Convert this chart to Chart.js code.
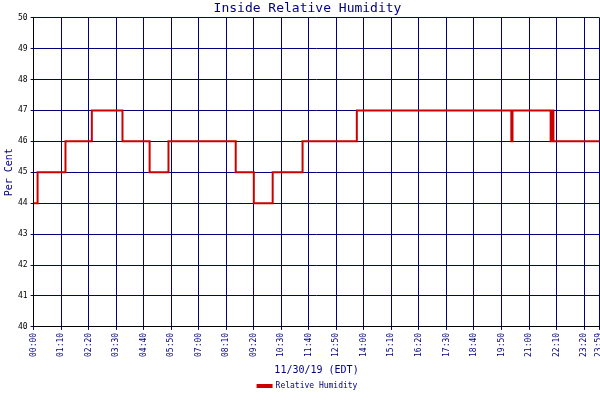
<!DOCTYPE html>
<html><head><meta charset="utf-8">
<script src="https://cdn.jsdelivr.net/npm/chart.js@4/dist/chart.umd.min.js"></script>
<style>html,body{margin:0;padding:0;background:#fff;overflow:hidden}#o{width:600px;height:400px;overflow:hidden}#w{width:612px;height:400px}</style>
</head><body><div id="o"><div id="w"><canvas id="c"></canvas></div></div>
<script>
const minutes = [0, 10, 81, 148, 226, 295, 343, 514, 560, 608, 684, 822, 1215, 1218, 1315, 1318, 1322, 1439];
const humidity = [44, 45, 46, 47, 46, 45, 46, 45, 44, 45, 46, 47, 46, 47, 46, 47, 46, 46];
const fmt = m => String(Math.floor(m/60)).padStart(2,'0') + ':' + String(m%60).padStart(2,'0');
const blue = '#000080';
new Chart(document.getElementById('c'), {
  type: 'line',
  data: { datasets: [{ label: 'Relative Humidity', data: minutes.map((m,i)=>({x:m,y:humidity[i]})),
    stepped: true, borderColor: '#cc0000', backgroundColor: '#cc0000', borderWidth: 2, pointRadius: 0 }]},
  options: {
    animation: false, responsive: true, maintainAspectRatio: false,
    layout: { padding: { top: 0, right: 0, left: 3, bottom: 0 } },
    plugins: {
      title: { display: true, text: 'Inside Relative Humidity', color: blue, font: { family: 'DejaVu Sans Mono', size: 13, weight: 'normal' }, padding: { top: 1, bottom: 1 } },
      legend: { position: 'bottom', labels: { boxWidth: 14, boxHeight: 2, color: blue, font: { family: 'DejaVu Sans Mono', size: 8 }, padding: 4 } }
    },
    scales: {
      x: { type: 'linear', min: 0, max: 1439,
        afterBuildTicks: s => { const t=[]; for (let m=0;m<1439;m+=70) t.push({value:m}); t.push({value:1439}); s.ticks=t; },
        ticks: { autoSkip: false, maxRotation: 90, minRotation: 90, color: blue, font: { family: 'DejaVu Sans Mono', size: 8 }, callback: v => fmt(v) },
        grid: { color: blue, tickLength: 3 }, border: { color: '#000' },
        title: { display: true, text: '11/30/19 (EDT)', color: blue, font: { family: 'DejaVu Sans Mono', size: 10 }, padding: { top: 4, bottom: 2 } } },
      y: { min: 40, max: 50,
        ticks: { stepSize: 1, color: '#000', font: { family: 'DejaVu Sans Mono', size: 8 } },
        grid: { color: blue, tickLength: 3 }, border: { color: '#000' },
        title: { display: true, text: 'Per Cent', color: blue, font: { family: 'DejaVu Sans Mono', size: 10 }, padding: 0 } }
    }
  }
});
</script></body></html>
